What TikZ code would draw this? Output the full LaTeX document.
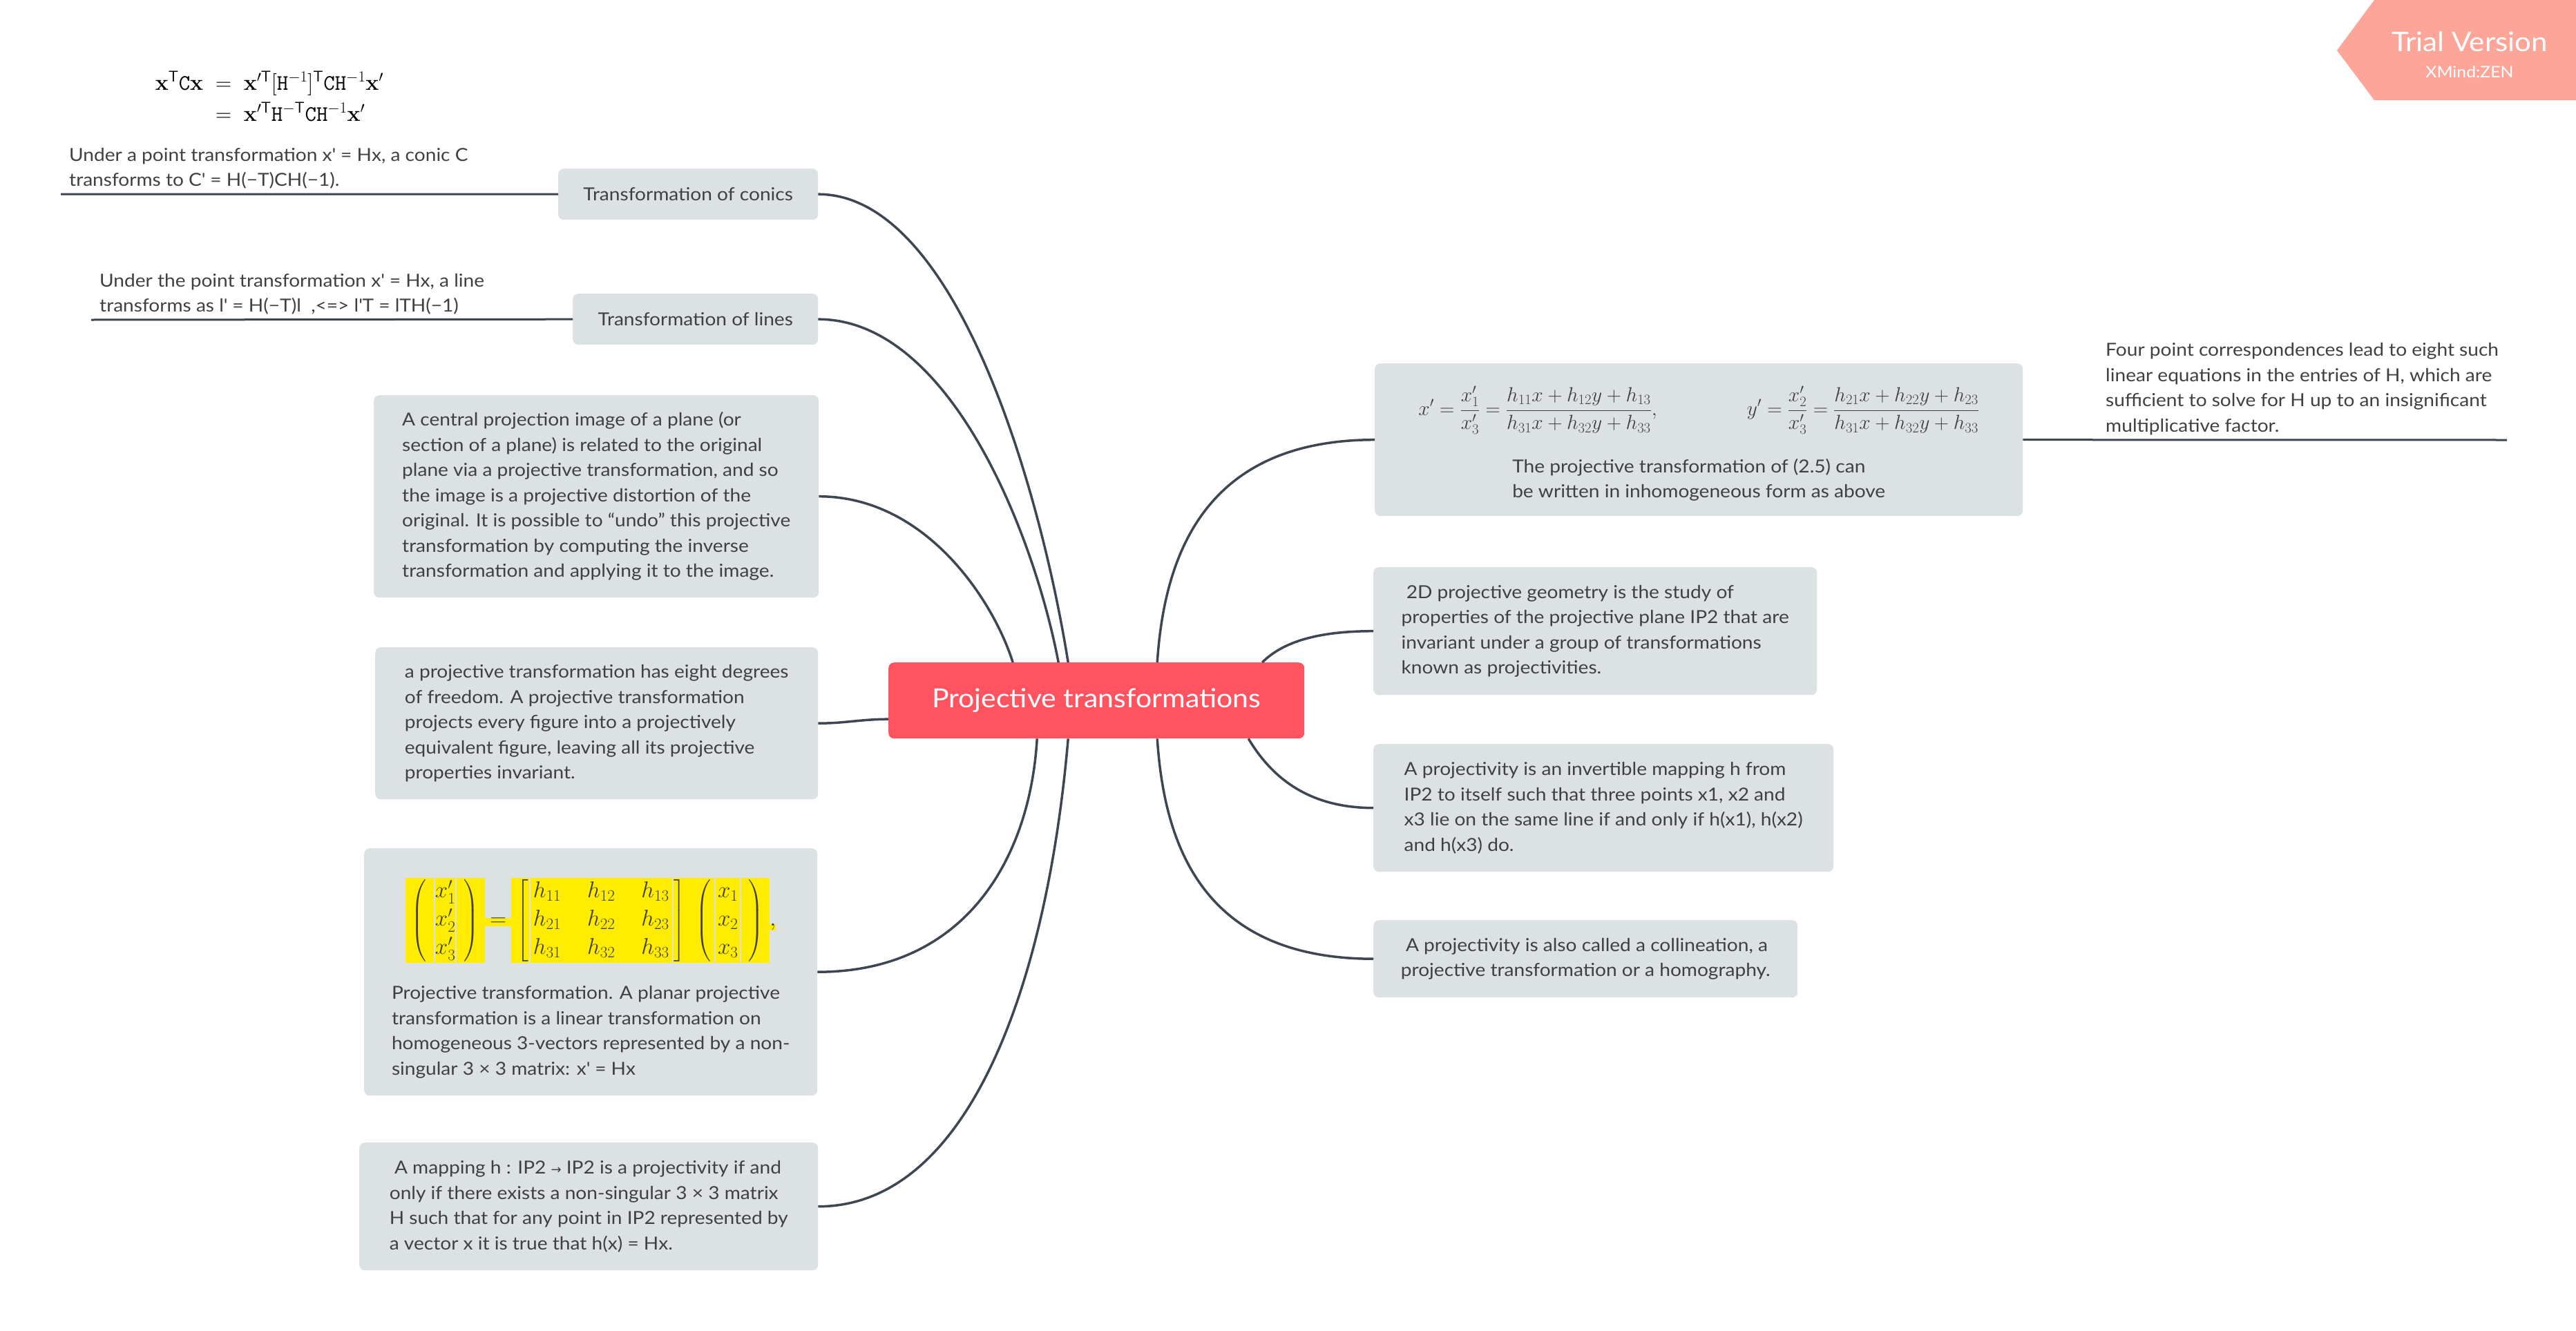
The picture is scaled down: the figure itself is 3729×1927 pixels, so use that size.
\RequirePackage{fix-cm}
\documentclass[tikz,border=0pt]{standalone}
\usepackage{amsmath}
\usepackage[no-math]{fontspec}
\setmainfont{Lato}[FakeStretch=1.08]
\newfontfamily\symfont{DejaVu Sans}
\definecolor{topicgray}{HTML}{DCE1E3}
\definecolor{rootred}{HTML}{FF535F}
\definecolor{linegray}{HTML}{3E4651}
\definecolor{textgray}{HTML}{404040}
\definecolor{trialpink}{HTML}{FDA598}
\definecolor{hlyellow}{HTML}{FFEC00}
\newcommand{\hl}[1]{{\setlength{\fboxsep}{0pt}\colorbox{hlyellow}{$\displaystyle#1$}}}
\newcommand{\tallcol}{\vphantom{\begin{array}{c}h_{11}\\h_{21}\\h_{31}\end{array}}}
\tikzset{
    topic/.style={fill=topicgray, rounded corners=8pt, inner sep=0pt, anchor=north west, text=textgray, align=left, font=\fontsize{26pt}{36.5pt}\selectfont}, % grey boxes round the centre
    root/.style={fill=rootred, rounded corners=8pt, inner sep=0pt, anchor=north west, text=white, font=\fontsize{38pt}{42pt}\selectfont}, % the central topic
    note/.style={inner xsep=12pt, inner ysep=7pt, anchor=south west, text=textgray, align=left, font=\fontsize{26pt}{36.5pt}\selectfont}, % floating notes sitting on a line
    branch/.style={draw=linegray, line width=3.5pt}, % curved connectors
    underline/.style={draw=linegray, line width=3pt} % line under a note
}
\begin{document}
\begin{tikzpicture}[x=1pt, y=-1pt]
    \useasboundingbox[fill=white] (0,0) rectangle (3729,1927);

    % Trial banner
    \fill[trialpink] (3383,73) -- (3437,0) -- (3729,0) -- (3729,145) -- (3437,145) -- cycle;
    \node[text=white, font=\fontsize{39pt}{42pt}\selectfont] (trial) at (3575,60) {Trial Version};
    \node[text=white, font=\fontsize{23pt}{26pt}\selectfont] (zen) at (3575,104) {XMind:ZEN};

    % Topics
    \node[root, minimum width=602pt, minimum height=110pt] (root) at (1286,959) {Projective transformations};
    \node[topic, minimum width=376pt, minimum height=74pt] (conics) at (808,244) {Transformation of conics};
    \node[topic, minimum width=355pt, minimum height=74pt] (lines) at (829,425) {Transformation of lines};
    \node[topic, minimum width=644pt, minimum height=293pt] (central) at (541,572) {A central projection image of a plane (or\\section of a plane) is related to the original\\plane via a projective transformation, and so\\the image is a projective distortion of the\\original. It is possible to “undo” this projective\\transformation by computing the inverse\\transformation and applying it to the image.};
    \node[topic, minimum width=641pt, minimum height=220pt] (eight) at (543,937) {a projective transformation has eight degrees\\of freedom. A projective transformation\\projects every figure into a projectively\\equivalent figure, leaving all its projective\\properties invariant.};
    \node[topic, minimum width=656pt, minimum height=358pt, align=center] (homog) at (527,1228) {\raisebox{0pt}[\dimexpr\height+24pt\relax][\depth]{\fontsize{33pt}{38pt}\selectfont\renewcommand{\arraystretch}{1.08}\setlength{\arraycolsep}{19pt}$\hl{\hspace{9pt}\left(\tallcol\right.\hspace{9pt}}\hspace{2pt}\hl{\begin{array}{@{}c@{}}x'_1\\x'_2\\x'_3\end{array}}\hspace{2pt}\hl{\hspace{9pt}\left.\tallcol\right)\hspace{9pt}}\hl{\hspace{7pt}=\hspace{7pt}}\hl{\hspace{8pt}\left[\tallcol\right.}\hspace{2pt}\hl{\begin{array}{@{\hspace{4pt}}ccc@{\hspace{4pt}}}h_{11}&h_{12}&h_{13}\\h_{21}&h_{22}&h_{23}\\h_{31}&h_{32}&h_{33}\end{array}}\hspace{2pt}\hl{\left.\tallcol\right]\hspace{9pt}\left(\tallcol\right.\hspace{4pt}}\hspace{2pt}\hl{\hspace{3pt}\begin{array}{@{}c@{}}x_1\\x_2\\x_3\end{array}\hspace{3pt}}\hspace{2pt}\hl{\hspace{9pt}\left.\tallcol\right)\hspace{9pt}}\hl{,}$}\\[26pt]
        \begin{tabular}{@{}l@{}}Projective transformation. A planar projective\\transformation is a linear transformation on\\homogeneous 3-vectors represented by a non-\\singular 3 × 3 matrix: x\textquotesingle{} = Hx\end{tabular}};
    \node[topic, minimum width=664pt, minimum height=185pt] (mapping) at (520,1654) {\ A mapping h : IP2 {\symfont\fontsize{18pt}{18pt}\selectfont →} IP2 is a projectivity if and\\only if there exists a non-singular 3 × 3 matrix\\H such that for any point in IP2 represented by\\a vector x it is true that h(x) = Hx.};
    \node[topic, minimum width=938pt, minimum height=221pt, align=center] (inhomog) at (1990,526) {\raisebox{0pt}[60pt][\depth]{\fontsize{29.5pt}{32pt}\selectfont$\displaystyle x'=\frac{x'_1}{x'_3}=\frac{h_{11}x+h_{12}y+h_{13}}{h_{31}x+h_{32}y+h_{33}},\hspace{125pt}y'=\frac{x'_2}{x'_3}=\frac{h_{21}x+h_{22}y+h_{23}}{h_{31}x+h_{32}y+h_{33}}$}\\[29pt]
        \begin{tabular}{@{}l@{}}The projective transformation of (2.5) can\\be written in inhomogeneous form as above\end{tabular}};
    \node[topic, minimum width=642pt, minimum height=185pt] (geometry) at (1988,821) {\ 2D projective geometry is the study of\\properties of the projective plane IP2 that are\\invariant under a group of transformations\\known as projectivities.};
    \node[topic, minimum width=666pt, minimum height=185pt] (invertible) at (1988,1077) {A projectivity is an invertible mapping h from\\IP2 to itself such that three points x1, x2 and\\x3 lie on the same line if and only if h(x1), h(x2)\\and h(x3) do.};
    \node[topic, minimum width=614pt, minimum height=112pt] (collineation) at (1988,1332) {\ A projectivity is also called a collineation, a\\projective transformation or a homography.};

    % Notes
    \node (conicform) at (390,144) {\fontsize{32pt}{45pt}\selectfont$\begin{array}{@{}r@{\;\;}c@{\;\;}l@{}}\mathbf{x}^{\mathsf{T}}\mathtt{C}\mathbf{x} & = & \mathbf{x}'^{\mathsf{T}}[\mathtt{H}^{-1}]^{\mathsf{T}}\mathtt{C}\mathtt{H}^{-1}\mathbf{x}'\\ & = & \mathbf{x}'^{\mathsf{T}}\mathtt{H}^{-\mathsf{T}}\mathtt{C}\mathtt{H}^{-1}\mathbf{x}'\end{array}$};
    \node[note] (conicnote) at (88,281) {Under a point transformation x\textquotesingle{} = Hx, a conic C\\transforms to C\textquotesingle{} = H(−T)CH(−1).};
    \node[note] (linenote) at (132,463) {Under the point transformation x\textquotesingle{} = Hx, a line\\transforms as l\textquotesingle{} = H(−T)l\ \ ,<=> l\textquotesingle{}T = lTH(−1)};
    \node[note] (fournote) at (3036,637) {Four point correspondences lead to eight such\\linear equations in the entries of H, which are\\sufficient to solve for H up to an insignificant\\multiplicative factor.};

    % Connectors
    \draw[branch] ([xshift=-41pt]root.north) .. controls +(-40,-250) and +(200,0) .. (conics.east);
    \draw[branch] ([xshift=-55pt]root.north) .. controls +(-35,-184) and +(191,0) .. (lines.east);
    \draw[branch] ([xshift=-121pt]root.north) .. controls +(-28,-89) and +(155,0) .. (central.east);
    \draw[branch] ([yshift=-27pt]root.west) .. controls +(-40,0) and +(40,0) .. (eight.east);
    \draw[branch] ([xshift=-86pt]root.south) .. controls +(-10,171) and +(216,0) .. (homog.east);
    \draw[branch] ([xshift=-41pt]root.south) .. controls +(-30,350) and +(220,0) .. (mapping.east);
    \draw[branch] ([xshift=88pt]root.north) .. controls +(10,-150) and +(-250,0) .. (inhomog.west);
    \draw[branch] ([xshift=240pt]root.north) .. controls +(30,-30) and +(-80,0) .. (geometry.west);
    \draw[branch] ([xshift=220pt]root.south) .. controls +(30,50) and +(-100,0) .. (invertible.west);
    \draw[branch] ([xshift=88pt]root.south) .. controls +(10,150) and +(-250,0) .. (collineation.west);

    % Underlines
    \draw[underline] (conics.west) -- (conicnote.south west);
    \draw[underline] (lines.west) -- (linenote.south west);
    \draw[underline] (inhomog.east) -- (fournote.south east);
\end{tikzpicture}
\end{document}
